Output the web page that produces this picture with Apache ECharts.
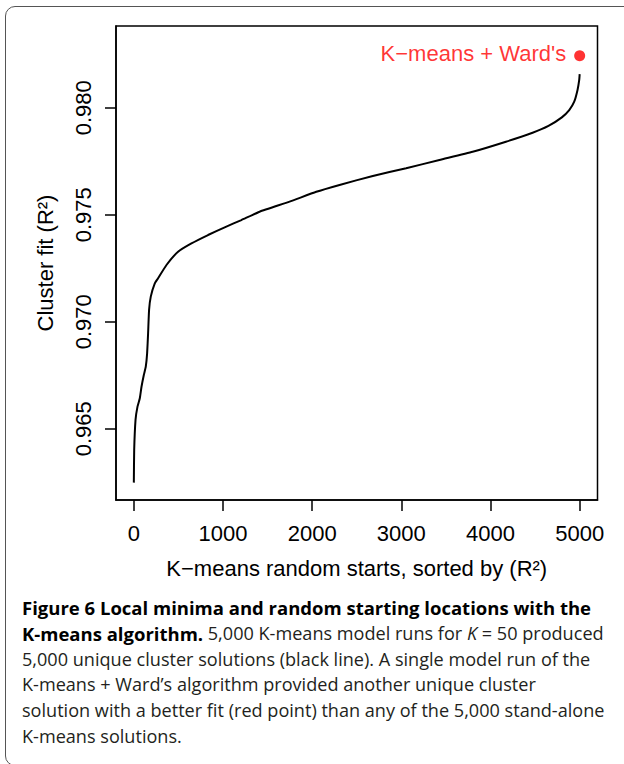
<!DOCTYPE html>
<html>
<head>
<meta charset="utf-8">
<style>
  html, body { margin: 0; padding: 0; background: #fff; overflow: hidden; }
  #wrap { position: relative; width: 624px; height: 764px; overflow: hidden; }
  #chart { position: absolute; left: 0; top: 0; width: 624px; height: 764px; }
  #frame { position: absolute; left: 5px; top: 6px; width: 700px; height: 758px;
    border: 1.5px solid #555; border-radius: 10px; pointer-events: none; }
</style>
<script src="https://cdn.jsdelivr.net/npm/echarts@6/dist/echarts.min.js"></script>
</head>
<body>
<div id="wrap">
  <div id="frame"></div>
  <div id="chart"></div>
</div>
<script>
// Sorted K-means random starts (index) and their cluster fit (R^2)
const runIndex = [0, 4, 19, 41, 67, 86, 112, 134, 149, 160, 171, 190, 235, 272, 366, 496, 646, 832,
  1019, 1206, 1411, 1747, 2046, 2307, 2680, 3054, 3427, 3800, 4173, 4472, 4650, 4800, 4883, 4939,
  4976, 4995, 5000];
const clusterFit = [0.96248, 0.96400, 0.96541, 0.96603, 0.96642, 0.96696, 0.96751, 0.96790, 0.96852,
  0.96946, 0.97055, 0.97117, 0.97179, 0.97203, 0.97265, 0.97327, 0.97366, 0.97405, 0.97441, 0.97475,
  0.97514, 0.97561, 0.97607, 0.97639, 0.97681, 0.97717, 0.97756, 0.97794, 0.97841, 0.97883, 0.97915,
  0.97955, 0.97989, 0.98028, 0.98083, 0.98130, 0.98157];
// K-means + Ward's single run
const wardLabel = "K\u2212means + Ward's";
const wardPoint = [5000, 0.98243];
// Tick labels
const xTicks = [0, 1000, 2000, 3000, 4000, 5000];
const yTicks = [0.965, 0.970, 0.975, 0.980];

const captionLines = [
  '{b|Figure 6 Local minima and random starting locations with the}',
  '{b|K-means algorithm.} 5,000 K-means model runs for {i|K} = 50 produced',
  '5,000 unique cluster solutions (black line). A single model run of the',
  'K-means + Ward\u2019s algorithm provided another unique cluster',
  'solution with a better fit (red point) than any of the 5,000 stand-alone',
  'K-means solutions.'
];

const RFONT = 'Liberation Sans, Arial, Helvetica, sans-serif';
const CFONT = 'Open Sans, Noto Sans, sans-serif';
const CSIZE = 18.1;
const BSIZE = 18.5;
const chart = echarts.init(document.getElementById('chart'), null, { renderer: 'svg' });

const lineData = runIndex.map((x, i) => [x, clusterFit[i]]);

const captionGraphics = captionLines.map((t, i) => ({
  type: 'text',
  left: 22,
  top: 598 + i * 25.8,
  style: {
    text: t,
    fill: '#231f20',
    fontFamily: CFONT,
    fontSize: CSIZE,
    rich: {
      b: { fontFamily: CFONT, fontSize: BSIZE, fontWeight: 'bold', fill: '#000' },
      i: { fontFamily: CFONT, fontSize: CSIZE, fontStyle: 'italic', fill: '#231f20' }
    }
  }
}));

chart.setOption({
  animation: false,
  grid: {
    left: 116, right: 26.5, top: 26, bottom: 264,
    show: true, borderColor: '#000', borderWidth: 1.5
  },
  xAxis: {
    type: 'value', min: -200, max: 5200,
    name: 'K\u2212means random starts, sorted by (R\u00B2)',
    nameLocation: 'middle', nameGap: 57,
    nameTextStyle: { fontFamily: RFONT, fontSize: 22, color: '#000' },
    axisLine: { show: true, onZero: false, lineStyle: { color: '#000', width: 1.5 } },
    axisTick: { show: true, length: 11, customValues: xTicks,
      lineStyle: { color: '#000', width: 1.5 } },
    axisLabel: { customValues: xTicks, margin: 22, fontFamily: RFONT, fontSize: 22, color: '#000',
      formatter: v => String(v) },
    splitLine: { show: false }
  },
  yAxis: {
    type: 'value', min: 0.961668, max: 0.983818,
    name: 'Cluster fit (R\u00B2)',
    nameLocation: 'middle', nameGap: 60,
    nameTextStyle: { fontFamily: RFONT, fontSize: 22, color: '#000' },
    axisLine: { show: true, onZero: false, lineStyle: { color: '#000', width: 1.5 } },
    axisTick: { show: true, length: 11, customValues: yTicks,
      lineStyle: { color: '#000', width: 1.5 } },
    axisLabel: { customValues: yTicks, rotate: 90, margin: 22, fontFamily: RFONT, fontSize: 22,
      color: '#000', formatter: v => v.toFixed(3) },
    splitLine: { show: false }
  },
  series: [
    {
      type: 'line',
      data: lineData,
      showSymbol: false,
      smooth: 0.15,
      clip: false,
      lineStyle: { color: '#000', width: 2 },
      z: 3
    },
    {
      type: 'scatter',
      data: [{ name: wardLabel, value: wardPoint }],
      symbol: 'circle',
      symbolSize: 11,
      clip: false,
      itemStyle: { color: '#ff0000' },
      label: {
        show: true, position: 'left', distance: 8, offset: [0, -2],
        formatter: '{b}', fontFamily: RFONT, fontSize: 22, color: '#ff0000'
      },
      z: 4
    }
  ],
  graphic: captionGraphics
});
</script>
</body>
</html>
